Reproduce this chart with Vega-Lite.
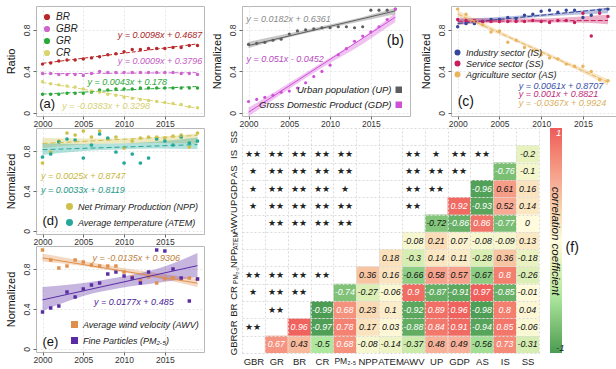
{
"$schema": "https://vega.github.io/schema/vega-lite/v6.json",
"background": "white",
"padding": {"left": 4, "top": 5, "right": 2, "bottom": 0},
"config": {
  "font": "Liberation Sans",
  "view": {"stroke": "#b8b8b8", "strokeWidth": 1},
  "axis": {"labelFont": "Liberation Sans", "titleFont": "Liberation Sans", "labelColor": "#333", "tickColor": "#666", "titleColor": "#111", "titleFontWeight": "normal", "domain": false, "gridColor": "#e6e6e6", "gridDash": [2, 2]},
  "legend": {"labelFont": "Liberation Sans", "labelColor": "#222", "padding": 0, "symbolOpacity": 1},
  "title": {"font": "Liberation Sans"}
},
"datasets": {
  "pa": [
    {"year":2000,"s":"BR","v":0.47},{"year":2001,"s":"BR","v":0.48},{"year":2002,"s":"BR","v":0.50},{"year":2003,"s":"BR","v":0.51},{"year":2004,"s":"BR","v":0.51},{"year":2005,"s":"BR","v":0.52},{"year":2006,"s":"BR","v":0.53},{"year":2007,"s":"BR","v":0.54},{"year":2008,"s":"BR","v":0.56},{"year":2009,"s":"BR","v":0.57},{"year":2010,"s":"BR","v":0.59},{"year":2011,"s":"BR","v":0.61},{"year":2012,"s":"BR","v":0.61},{"year":2013,"s":"BR","v":0.62},{"year":2014,"s":"BR","v":0.62},{"year":2015,"s":"BR","v":0.62},{"year":2016,"s":"BR","v":0.63},{"year":2017,"s":"BR","v":0.63},{"year":2018,"s":"BR","v":0.65},{"year":2019,"s":"BR","v":0.65},
    {"year":2000,"s":"GBR","v":0.38},{"year":2001,"s":"GBR","v":0.38},{"year":2002,"s":"GBR","v":0.37},{"year":2003,"s":"GBR","v":0.37},{"year":2004,"s":"GBR","v":0.37},{"year":2005,"s":"GBR","v":0.36},{"year":2006,"s":"GBR","v":0.38},{"year":2007,"s":"GBR","v":0.40},{"year":2008,"s":"GBR","v":0.39},{"year":2009,"s":"GBR","v":0.39},{"year":2010,"s":"GBR","v":0.39},{"year":2011,"s":"GBR","v":0.39},{"year":2012,"s":"GBR","v":0.39},{"year":2013,"s":"GBR","v":0.39},{"year":2014,"s":"GBR","v":0.39},{"year":2015,"s":"GBR","v":0.39},{"year":2016,"s":"GBR","v":0.39},{"year":2017,"s":"GBR","v":0.38},{"year":2018,"s":"GBR","v":0.38},{"year":2019,"s":"GBR","v":0.37},
    {"year":2000,"s":"GR","v":0.18},{"year":2001,"s":"GR","v":0.18},{"year":2002,"s":"GR","v":0.18},{"year":2003,"s":"GR","v":0.19},{"year":2004,"s":"GR","v":0.19},{"year":2005,"s":"GR","v":0.19},{"year":2006,"s":"GR","v":0.20},{"year":2007,"s":"GR","v":0.22},{"year":2008,"s":"GR","v":0.22},{"year":2009,"s":"GR","v":0.23},{"year":2010,"s":"GR","v":0.23},{"year":2011,"s":"GR","v":0.23},{"year":2012,"s":"GR","v":0.24},{"year":2013,"s":"GR","v":0.24},{"year":2014,"s":"GR","v":0.24},{"year":2015,"s":"GR","v":0.24},{"year":2016,"s":"GR","v":0.24},{"year":2017,"s":"GR","v":0.24},{"year":2018,"s":"GR","v":0.24},{"year":2019,"s":"GR","v":0.24},
    {"year":2000,"s":"CR","v":0.30},{"year":2001,"s":"CR","v":0.28},{"year":2002,"s":"CR","v":0.27},{"year":2003,"s":"CR","v":0.26},{"year":2004,"s":"CR","v":0.25},{"year":2005,"s":"CR","v":0.23},{"year":2006,"s":"CR","v":0.21},{"year":2007,"s":"CR","v":0.20},{"year":2008,"s":"CR","v":0.18},{"year":2009,"s":"CR","v":0.17},{"year":2010,"s":"CR","v":0.15},{"year":2011,"s":"CR","v":0.14},{"year":2012,"s":"CR","v":0.13},{"year":2013,"s":"CR","v":0.12},{"year":2014,"s":"CR","v":0.11},{"year":2015,"s":"CR","v":0.10},{"year":2016,"s":"CR","v":0.09},{"year":2017,"s":"CR","v":0.08},{"year":2018,"s":"CR","v":0.06},{"year":2019,"s":"CR","v":0.05}
  ],
  "pb": [
    {"year":2000,"s":"Urban population (UP)","v":0.66},{"year":2001,"s":"Urban population (UP)","v":0.67},{"year":2002,"s":"Urban population (UP)","v":0.68},{"year":2003,"s":"Urban population (UP)","v":0.70},{"year":2004,"s":"Urban population (UP)","v":0.71},{"year":2005,"s":"Urban population (UP)","v":0.76},{"year":2006,"s":"Urban population (UP)","v":0.79},{"year":2007,"s":"Urban population (UP)","v":0.80},{"year":2008,"s":"Urban population (UP)","v":0.81},{"year":2009,"s":"Urban population (UP)","v":0.82},{"year":2010,"s":"Urban population (UP)","v":0.82},{"year":2011,"s":"Urban population (UP)","v":0.83},{"year":2012,"s":"Urban population (UP)","v":0.83},{"year":2013,"s":"Urban population (UP)","v":0.82},{"year":2014,"s":"Urban population (UP)","v":0.83},{"year":2015,"s":"Urban population (UP)","v":0.99},{"year":2016,"s":"Urban population (UP)","v":0.99},{"year":2017,"s":"Urban population (UP)","v":0.99},{"year":2018,"s":"Urban population (UP)","v":1.00},
    {"year":2000,"s":"Gross Domestic Product (GDP)","v":0.11},{"year":2001,"s":"Gross Domestic Product (GDP)","v":0.13},{"year":2002,"s":"Gross Domestic Product (GDP)","v":0.15},{"year":2003,"s":"Gross Domestic Product (GDP)","v":0.17},{"year":2004,"s":"Gross Domestic Product (GDP)","v":0.20},{"year":2005,"s":"Gross Domestic Product (GDP)","v":0.21},{"year":2006,"s":"Gross Domestic Product (GDP)","v":0.24},{"year":2007,"s":"Gross Domestic Product (GDP)","v":0.29},{"year":2008,"s":"Gross Domestic Product (GDP)","v":0.35},{"year":2009,"s":"Gross Domestic Product (GDP)","v":0.40},{"year":2010,"s":"Gross Domestic Product (GDP)","v":0.46},{"year":2011,"s":"Gross Domestic Product (GDP)","v":0.56},{"year":2012,"s":"Gross Domestic Product (GDP)","v":0.62},{"year":2013,"s":"Gross Domestic Product (GDP)","v":0.69},{"year":2014,"s":"Gross Domestic Product (GDP)","v":0.74},{"year":2015,"s":"Gross Domestic Product (GDP)","v":0.78},{"year":2016,"s":"Gross Domestic Product (GDP)","v":0.83},{"year":2017,"s":"Gross Domestic Product (GDP)","v":0.90},{"year":2018,"s":"Gross Domestic Product (GDP)","v":1.00}
  ],
  "bb": [
    {"year":2000,"s":"Urban population (UP)","lo":0.625,"hi":0.685},{"year":2004,"s":"Urban population (UP)","lo":0.71,"hi":0.75},{"year":2009,"s":"Urban population (UP)","lo":0.80,"hi":0.835},{"year":2014,"s":"Urban population (UP)","lo":0.885,"hi":0.925},{"year":2018,"s":"Urban population (UP)","lo":0.95,"hi":1.01},
    {"year":2000,"s":"Gross Domestic Product (GDP)","lo":-0.035,"hi":0.05},{"year":2004,"s":"Gross Domestic Product (GDP)","lo":0.18,"hi":0.24},{"year":2009,"s":"Gross Domestic Product (GDP)","lo":0.435,"hi":0.485},{"year":2014,"s":"Gross Domestic Product (GDP)","lo":0.665,"hi":0.725},{"year":2018,"s":"Gross Domestic Product (GDP)","lo":0.875,"hi":0.965}
  ],
  "pc": [
    {"year":2000,"s":"Industry sector (IS)","v":0.83},{"year":2001,"s":"Industry sector (IS)","v":0.86},{"year":2002,"s":"Industry sector (IS)","v":0.86},{"year":2003,"s":"Industry sector (IS)","v":0.88},{"year":2004,"s":"Industry sector (IS)","v":0.90},{"year":2005,"s":"Industry sector (IS)","v":0.90},{"year":2006,"s":"Industry sector (IS)","v":0.92},{"year":2007,"s":"Industry sector (IS)","v":0.91},{"year":2008,"s":"Industry sector (IS)","v":0.94},{"year":2009,"s":"Industry sector (IS)","v":0.95},{"year":2010,"s":"Industry sector (IS)","v":0.98},{"year":2011,"s":"Industry sector (IS)","v":0.99},{"year":2012,"s":"Industry sector (IS)","v":0.97},{"year":2013,"s":"Industry sector (IS)","v":0.99},{"year":2014,"s":"Industry sector (IS)","v":0.99},{"year":2015,"s":"Industry sector (IS)","v":0.92},{"year":2016,"s":"Industry sector (IS)","v":0.94},{"year":2017,"s":"Industry sector (IS)","v":0.99},{"year":2018,"s":"Industry sector (IS)","v":1.00},
    {"year":2000,"s":"Service sector (SS)","v":0.90},{"year":2001,"s":"Service sector (SS)","v":0.89},{"year":2002,"s":"Service sector (SS)","v":0.89},{"year":2003,"s":"Service sector (SS)","v":0.88},{"year":2004,"s":"Service sector (SS)","v":0.88},{"year":2005,"s":"Service sector (SS)","v":0.88},{"year":2006,"s":"Service sector (SS)","v":0.88},{"year":2007,"s":"Service sector (SS)","v":0.88},{"year":2008,"s":"Service sector (SS)","v":0.88},{"year":2009,"s":"Service sector (SS)","v":0.89},{"year":2010,"s":"Service sector (SS)","v":0.88},{"year":2011,"s":"Service sector (SS)","v":0.87},{"year":2012,"s":"Service sector (SS)","v":0.89},{"year":2013,"s":"Service sector (SS)","v":0.89},{"year":2014,"s":"Service sector (SS)","v":0.87},{"year":2015,"s":"Service sector (SS)","v":0.96},{"year":2016,"s":"Service sector (SS)","v":0.74},{"year":2017,"s":"Service sector (SS)","v":0.96},{"year":2018,"s":"Service sector (SS)","v":0.93},
    {"year":2000,"s":"Agriculture sector (AS)","v":1.00},{"year":2001,"s":"Agriculture sector (AS)","v":0.95},{"year":2002,"s":"Agriculture sector (AS)","v":0.88},{"year":2003,"s":"Agriculture sector (AS)","v":0.85},{"year":2004,"s":"Agriculture sector (AS)","v":0.78},{"year":2005,"s":"Agriculture sector (AS)","v":0.79},{"year":2006,"s":"Agriculture sector (AS)","v":0.68},{"year":2007,"s":"Agriculture sector (AS)","v":0.70},{"year":2008,"s":"Agriculture sector (AS)","v":0.63},{"year":2009,"s":"Agriculture sector (AS)","v":0.60},{"year":2010,"s":"Agriculture sector (AS)","v":0.56},{"year":2011,"s":"Agriculture sector (AS)","v":0.53},{"year":2012,"s":"Agriculture sector (AS)","v":0.52},{"year":2013,"s":"Agriculture sector (AS)","v":0.47},{"year":2014,"s":"Agriculture sector (AS)","v":0.45},{"year":2015,"s":"Agriculture sector (AS)","v":0.45},{"year":2016,"s":"Agriculture sector (AS)","v":0.40},{"year":2017,"s":"Agriculture sector (AS)","v":0.32},{"year":2018,"s":"Agriculture sector (AS)","v":0.31}
  ],
  "bc": [
    {"year":2000,"s":"Industry sector (IS)","lo":0.85,"hi":0.905},{"year":2004,"s":"Industry sector (IS)","lo":0.885,"hi":0.92},{"year":2009,"s":"Industry sector (IS)","lo":0.92,"hi":0.945},{"year":2014,"s":"Industry sector (IS)","lo":0.945,"hi":0.98},{"year":2018,"s":"Industry sector (IS)","lo":0.96,"hi":1.015},
    {"year":2000,"s":"Service sector (SS)","lo":0.85,"hi":0.92},{"year":2004,"s":"Service sector (SS)","lo":0.865,"hi":0.91},{"year":2009,"s":"Service sector (SS)","lo":0.872,"hi":0.91},{"year":2014,"s":"Service sector (SS)","lo":0.87,"hi":0.925},{"year":2018,"s":"Service sector (SS)","lo":0.855,"hi":0.945},
    {"year":2000,"s":"Agriculture sector (AS)","lo":0.93,"hi":0.99},{"year":2004,"s":"Agriculture sector (AS)","lo":0.79,"hi":0.83},{"year":2009,"s":"Agriculture sector (AS)","lo":0.61,"hi":0.645},{"year":2014,"s":"Agriculture sector (AS)","lo":0.425,"hi":0.465},{"year":2018,"s":"Agriculture sector (AS)","lo":0.265,"hi":0.325}
  ],
  "pd": [
    {"year":2000,"s":"Net Primary Production (NPP)","v":0.68},{"year":2001,"s":"Net Primary Production (NPP)","v":0.79},{"year":2002,"s":"Net Primary Production (NPP)","v":0.90},{"year":2003,"s":"Net Primary Production (NPP)","v":0.98},{"year":2004,"s":"Net Primary Production (NPP)","v":0.96},{"year":2005,"s":"Net Primary Production (NPP)","v":1.00},{"year":2006,"s":"Net Primary Production (NPP)","v":0.94},{"year":2007,"s":"Net Primary Production (NPP)","v":1.00},{"year":2008,"s":"Net Primary Production (NPP)","v":0.92},{"year":2009,"s":"Net Primary Production (NPP)","v":0.94},{"year":2010,"s":"Net Primary Production (NPP)","v":0.83},{"year":2011,"s":"Net Primary Production (NPP)","v":0.90},{"year":2012,"s":"Net Primary Production (NPP)","v":0.93},{"year":2013,"s":"Net Primary Production (NPP)","v":0.94},{"year":2014,"s":"Net Primary Production (NPP)","v":0.94},{"year":2015,"s":"Net Primary Production (NPP)","v":0.93},{"year":2016,"s":"Net Primary Production (NPP)","v":0.95},{"year":2017,"s":"Net Primary Production (NPP)","v":0.96},{"year":2018,"s":"Net Primary Production (NPP)","v":0.84},{"year":2019,"s":"Net Primary Production (NPP)","v":0.98},
    {"year":2000,"s":"Average temperature (ATEM)","v":0.74},{"year":2001,"s":"Average temperature (ATEM)","v":0.77},{"year":2002,"s":"Average temperature (ATEM)","v":0.89},{"year":2003,"s":"Average temperature (ATEM)","v":0.92},{"year":2004,"s":"Average temperature (ATEM)","v":0.91},{"year":2005,"s":"Average temperature (ATEM)","v":0.73},{"year":2006,"s":"Average temperature (ATEM)","v":0.86},{"year":2007,"s":"Average temperature (ATEM)","v":0.97},{"year":2008,"s":"Average temperature (ATEM)","v":0.93},{"year":2009,"s":"Average temperature (ATEM)","v":0.79},{"year":2010,"s":"Average temperature (ATEM)","v":0.68},{"year":2011,"s":"Average temperature (ATEM)","v":0.77},{"year":2012,"s":"Average temperature (ATEM)","v":0.68},{"year":2013,"s":"Average temperature (ATEM)","v":0.73},{"year":2014,"s":"Average temperature (ATEM)","v":0.92},{"year":2015,"s":"Average temperature (ATEM)","v":0.90},{"year":2016,"s":"Average temperature (ATEM)","v":0.86},{"year":2017,"s":"Average temperature (ATEM)","v":0.94},{"year":2018,"s":"Average temperature (ATEM)","v":0.88},{"year":2019,"s":"Average temperature (ATEM)","v":0.90}
  ],
  "bd": [
    {"year":2000,"s":"Net Primary Production (NPP)","lo":0.83,"hi":0.93},{"year":2005,"s":"Net Primary Production (NPP)","lo":0.865,"hi":0.925},{"year":2009.5,"s":"Net Primary Production (NPP)","lo":0.875,"hi":0.925},{"year":2014,"s":"Net Primary Production (NPP)","lo":0.88,"hi":0.94},{"year":2019,"s":"Net Primary Production (NPP)","lo":0.875,"hi":0.975},
    {"year":2000,"s":"Average temperature (ATEM)","lo":0.76,"hi":0.875},{"year":2005,"s":"Average temperature (ATEM)","lo":0.80,"hi":0.87},{"year":2009.5,"s":"Average temperature (ATEM)","lo":0.815,"hi":0.875},{"year":2014,"s":"Average temperature (ATEM)","lo":0.825,"hi":0.895},{"year":2019,"s":"Average temperature (ATEM)","lo":0.82,"hi":0.935}
  ],
  "pe": [
    {"year":2000,"s":"Average wind velocity (AWV)","v":0.99},{"year":2001,"s":"Average wind velocity (AWV)","v":0.89},{"year":2002,"s":"Average wind velocity (AWV)","v":0.81},{"year":2003,"s":"Average wind velocity (AWV)","v":0.83},{"year":2004,"s":"Average wind velocity (AWV)","v":0.89},{"year":2005,"s":"Average wind velocity (AWV)","v":0.87},{"year":2006,"s":"Average wind velocity (AWV)","v":0.84},{"year":2007,"s":"Average wind velocity (AWV)","v":0.83},{"year":2008,"s":"Average wind velocity (AWV)","v":0.83},{"year":2009,"s":"Average wind velocity (AWV)","v":0.83},{"year":2010,"s":"Average wind velocity (AWV)","v":0.77},{"year":2011,"s":"Average wind velocity (AWV)","v":0.72},{"year":2012,"s":"Average wind velocity (AWV)","v":0.69},{"year":2013,"s":"Average wind velocity (AWV)","v":0.72},{"year":2014,"s":"Average wind velocity (AWV)","v":0.66},{"year":2015,"s":"Average wind velocity (AWV)","v":0.70},{"year":2016,"s":"Average wind velocity (AWV)","v":0.71},{"year":2017,"s":"Average wind velocity (AWV)","v":0.70},{"year":2018,"s":"Average wind velocity (AWV)","v":0.71},{"year":2019,"s":"Average wind velocity (AWV)","v":0.70},
    {"year":2000,"s":"Fine Particles (PM₂.₅)","v":0.37},{"year":2001,"s":"Fine Particles (PM₂.₅)","v":0.41},{"year":2002,"s":"Fine Particles (PM₂.₅)","v":0.43},{"year":2003,"s":"Fine Particles (PM₂.₅)","v":0.57},{"year":2004,"s":"Fine Particles (PM₂.₅)","v":0.52},{"year":2005,"s":"Fine Particles (PM₂.₅)","v":0.60},{"year":2006,"s":"Fine Particles (PM₂.₅)","v":0.64},{"year":2007,"s":"Fine Particles (PM₂.₅)","v":0.66},{"year":2008,"s":"Fine Particles (PM₂.₅)","v":0.75},{"year":2009,"s":"Fine Particles (PM₂.₅)","v":0.77},{"year":2010,"s":"Fine Particles (PM₂.₅)","v":0.73},{"year":2011,"s":"Fine Particles (PM₂.₅)","v":0.71},{"year":2012,"s":"Fine Particles (PM₂.₅)","v":0.66},{"year":2013,"s":"Fine Particles (PM₂.₅)","v":0.77},{"year":2014,"s":"Fine Particles (PM₂.₅)","v":0.99},{"year":2015,"s":"Fine Particles (PM₂.₅)","v":0.98},{"year":2016,"s":"Fine Particles (PM₂.₅)","v":0.80},{"year":2017,"s":"Fine Particles (PM₂.₅)","v":0.71},{"year":2018,"s":"Fine Particles (PM₂.₅)","v":0.48},{"year":2019,"s":"Fine Particles (PM₂.₅)","v":0.70}
  ],
  "be": [
    {"year":2000,"s":"Average wind velocity (AWV)","lo":0.875,"hi":0.955},{"year":2005,"s":"Average wind velocity (AWV)","lo":0.83,"hi":0.88},{"year":2009.5,"s":"Average wind velocity (AWV)","lo":0.77,"hi":0.815},{"year":2014,"s":"Average wind velocity (AWV)","lo":0.71,"hi":0.76},{"year":2019,"s":"Average wind velocity (AWV)","lo":0.62,"hi":0.70},
    {"year":2000,"s":"Fine Particles (PM₂.₅)","lo":0.38,"hi":0.62},{"year":2005,"s":"Fine Particles (PM₂.₅)","lo":0.53,"hi":0.66},{"year":2009.5,"s":"Fine Particles (PM₂.₅)","lo":0.61,"hi":0.72},{"year":2014,"s":"Fine Particles (PM₂.₅)","lo":0.66,"hi":0.80},{"year":2019,"s":"Fine Particles (PM₂.₅)","lo":0.72,"hi":0.96}
  ],
  "cells": [
    {"r":"GBR","c":"GR","v":0.67},{"r":"GBR","c":"BR","v":0.43},{"r":"GBR","c":"CR","v":-0.5},{"r":"GBR","c":"PM₂.₅","v":0.68},{"r":"GBR","c":"NPP","v":-0.08},{"r":"GBR","c":"ATEM","v":-0.14},{"r":"GBR","c":"AWV","v":-0.37},{"r":"GBR","c":"UP","v":0.48},{"r":"GBR","c":"GDP","v":0.49},{"r":"GBR","c":"AS","v":-0.56},{"r":"GBR","c":"IS","v":0.73},{"r":"GBR","c":"SS","v":-0.31},
    {"r":"GR","c":"BR","v":0.96},{"r":"GR","c":"CR","v":-0.97},{"r":"GR","c":"PM₂.₅","v":0.78},{"r":"GR","c":"NPP","v":0.17},{"r":"GR","c":"ATEM","v":0.03},{"r":"GR","c":"AWV","v":-0.88},{"r":"GR","c":"UP","v":0.84},{"r":"GR","c":"GDP","v":0.91},{"r":"GR","c":"AS","v":-0.94},{"r":"GR","c":"IS","v":0.85},{"r":"GR","c":"SS","v":-0.06},
    {"r":"BR","c":"CR","v":-0.99},{"r":"BR","c":"PM₂.₅","v":0.68},{"r":"BR","c":"NPP","v":0.23},{"r":"BR","c":"ATEM","v":0.1},{"r":"BR","c":"AWV","v":-0.92},{"r":"BR","c":"UP","v":0.89},{"r":"BR","c":"GDP","v":0.96},{"r":"BR","c":"AS","v":-0.98},{"r":"BR","c":"IS","v":0.8},{"r":"BR","c":"SS","v":0.04},
    {"r":"CR","c":"PM₂.₅","v":-0.74},{"r":"CR","c":"NPP","v":-0.27},{"r":"CR","c":"ATEM","v":-0.06},{"r":"CR","c":"AWV","v":0.9},{"r":"CR","c":"UP","v":-0.87},{"r":"CR","c":"GDP","v":-0.91},{"r":"CR","c":"AS","v":0.97},{"r":"CR","c":"IS","v":-0.85},{"r":"CR","c":"SS","v":-0.01},
    {"r":"PM₂.₅","c":"NPP","v":0.36},{"r":"PM₂.₅","c":"ATEM","v":0.16},{"r":"PM₂.₅","c":"AWV","v":-0.66},{"r":"PM₂.₅","c":"UP","v":0.58},{"r":"PM₂.₅","c":"GDP","v":0.57},{"r":"PM₂.₅","c":"AS","v":-0.67},{"r":"PM₂.₅","c":"IS","v":0.8},{"r":"PM₂.₅","c":"SS","v":-0.26},
    {"r":"NPP","c":"ATEM","v":0.18},{"r":"NPP","c":"AWV","v":-0.3},{"r":"NPP","c":"UP","v":0.14},{"r":"NPP","c":"GDP","v":0.11},{"r":"NPP","c":"AS","v":-0.28},{"r":"NPP","c":"IS","v":0.36},{"r":"NPP","c":"SS","v":-0.18},
    {"r":"ATEM","c":"AWV","v":-0.08},{"r":"ATEM","c":"UP","v":0.21},{"r":"ATEM","c":"GDP","v":0.07},{"r":"ATEM","c":"AS","v":-0.08},{"r":"ATEM","c":"IS","v":-0.09},{"r":"ATEM","c":"SS","v":0.13},
    {"r":"AWV","c":"UP","v":-0.72},{"r":"AWV","c":"GDP","v":-0.86},{"r":"AWV","c":"AS","v":0.86},{"r":"AWV","c":"IS","v":-0.77},{"r":"AWV","c":"SS","v":0},
    {"r":"UP","c":"GDP","v":0.92},{"r":"UP","c":"AS","v":-0.93},{"r":"UP","c":"IS","v":0.52},{"r":"UP","c":"SS","v":0.14},
    {"r":"GDP","c":"AS","v":-0.96},{"r":"GDP","c":"IS","v":0.61},{"r":"GDP","c":"SS","v":0.16},
    {"r":"AS","c":"IS","v":-0.76},{"r":"AS","c":"SS","v":-0.1},
    {"r":"IS","c":"SS","v":-0.2}
  ],
  "stars": [
    {"r":"IS","c":"GBR","s":"★★"},{"r":"IS","c":"GR","s":"★★"},{"r":"IS","c":"BR","s":"★★"},{"r":"IS","c":"CR","s":"★★"},{"r":"IS","c":"PM₂.₅","s":"★★"},{"r":"IS","c":"AWV","s":"★★"},{"r":"IS","c":"UP","s":"★"},{"r":"IS","c":"GDP","s":"★★"},{"r":"IS","c":"AS","s":"★★"},
    {"r":"AS","c":"GBR","s":"★"},{"r":"AS","c":"GR","s":"★★"},{"r":"AS","c":"BR","s":"★★"},{"r":"AS","c":"CR","s":"★★"},{"r":"AS","c":"PM₂.₅","s":"★★"},{"r":"AS","c":"AWV","s":"★★"},{"r":"AS","c":"UP","s":"★★"},{"r":"AS","c":"GDP","s":"★★"},
    {"r":"GDP","c":"GBR","s":"★"},{"r":"GDP","c":"GR","s":"★★"},{"r":"GDP","c":"BR","s":"★★"},{"r":"GDP","c":"CR","s":"★★"},{"r":"GDP","c":"PM₂.₅","s":"★"},{"r":"GDP","c":"AWV","s":"★★"},{"r":"GDP","c":"UP","s":"★★"},
    {"r":"UP","c":"GBR","s":"★"},{"r":"UP","c":"GR","s":"★★"},{"r":"UP","c":"BR","s":"★★"},{"r":"UP","c":"CR","s":"★★"},{"r":"UP","c":"PM₂.₅","s":"★★"},{"r":"UP","c":"AWV","s":"★★"},
    {"r":"AWV","c":"GR","s":"★★"},{"r":"AWV","c":"BR","s":"★★"},{"r":"AWV","c":"CR","s":"★★"},{"r":"AWV","c":"PM₂.₅","s":"★★"},
    {"r":"PM₂.₅","c":"GBR","s":"★★"},{"r":"PM₂.₅","c":"GR","s":"★★"},{"r":"PM₂.₅","c":"BR","s":"★★"},{"r":"PM₂.₅","c":"CR","s":"★★"},
    {"r":"CR","c":"GBR","s":"★"},{"r":"CR","c":"GR","s":"★★"},{"r":"CR","c":"BR","s":"★★"},
    {"r":"BR","c":"GR","s":"★★"},
    {"r":"GR","c":"GBR","s":"★★"}
  ]
},
"resolve": {"scale": {"color": "independent"}, "legend": {"color": "independent"}},
"hconcat": [
  {"resolve": {"scale": {"color": "independent"}, "legend": {"color": "independent"}},
   "vconcat": [
    {"width": 168, "height": 110,
     "layer": [
      {"data": {"name": "pa"}, "mark": {"type": "point", "filled": true, "size": 12, "opacity": 1},
       "encoding": {
        "x": {"field": "year", "type": "quantitative", "scale": {"domain": [1999.2, 2019.8], "nice": false, "zero": false}, "axis": {"title": null, "values": [2000, 2005, 2010, 2015], "format": "d", "labelFontSize": 8.5, "tickSize": 3, "labelPadding": 0, "grid": true}},
        "y": {"field": "v", "type": "quantitative", "scale": {"domain": [-0.03, 1.03], "nice": false}, "axis": {"title": "Ratio", "values": [0, 0.2, 0.4, 0.6, 0.8, 1], "format": "~g", "labelAngle": 270, "labelAlign": "center", "labelBaseline": "bottom", "labelFontSize": 8.5, "labelPadding": 2, "tickSize": 3, "titleFontSize": 11, "titlePadding": 4, "grid": true, "minExtent": 16, "maxExtent": 16}},
        "color": {"field": "s", "type": "nominal", "scale": {"domain": ["BR", "GBR", "GR", "CR"], "range": ["#b8282a", "#cc66cc", "#2ca83a", "#d9d46e"]}, "legend": {"title": null, "orient": "top-left", "offset": 6, "labelFontStyle": "italic", "labelFontSize": 10, "symbolSize": 22, "symbolType": "circle", "rowPadding": 0}}
       }},
      {"data": {"name": "pa"}, "transform": [{"regression": "v", "on": "year", "groupby": ["s"]}], "mark": {"type": "line", "strokeDash": [4, 2], "strokeWidth": 1},
       "encoding": {"x": {"field": "year", "type": "quantitative"}, "y": {"field": "v", "type": "quantitative"}, "color": {"field": "s", "type": "nominal"}}},
      {"data": {"values": [{}]}, "mark": {"type": "text", "text": "y = 0.0098x + 0.4687", "align": "right", "fontStyle": "italic", "fontSize": 9, "color": "#a82828"}, "encoding": {"x": {"datum": 2019.6}, "y": {"datum": 0.755}}},
      {"data": {"values": [{}]}, "mark": {"type": "text", "text": "y = 0.0009x + 0.3796", "align": "right", "fontStyle": "italic", "fontSize": 9, "color": "#c45cc4"}, "encoding": {"x": {"datum": 2019.6}, "y": {"datum": 0.50}}},
      {"data": {"values": [{}]}, "mark": {"type": "text", "text": "y = 0.0043x + 0.178", "align": "center", "fontStyle": "italic", "fontSize": 9, "color": "#2aa83a"}, "encoding": {"x": {"datum": 2010.4}, "y": {"datum": 0.295}}},
      {"data": {"values": [{}]}, "mark": {"type": "text", "text": "y = -0.0383x + 0.3298", "align": "center", "fontStyle": "italic", "fontSize": 9, "color": "#d6d070"}, "encoding": {"x": {"datum": 2007.8}, "y": {"datum": 0.07}}},
      {"data": {"values": [{}]}, "mark": {"type": "text", "text": "(a)", "align": "left", "fontSize": 13, "color": "#111"}, "encoding": {"x": {"datum": 1999.6}, "y": {"datum": 0.09}}}
     ]},
    {"width": 168, "height": 106,
     "layer": [
      {"data": {"name": "bd"}, "mark": {"type": "area", "opacity": 0.35, "interpolate": "monotone"},
       "encoding": {"x": {"field": "year", "type": "quantitative"}, "y": {"field": "lo", "type": "quantitative"}, "y2": {"field": "hi"}, "color": {"field": "s", "type": "nominal"}}},
      {"data": {"name": "pd"}, "mark": {"type": "point", "filled": true, "size": 14, "opacity": 1},
       "encoding": {
        "x": {"field": "year", "type": "quantitative", "scale": {"domain": [1999.2, 2019.8], "nice": false, "zero": false}, "axis": {"title": null, "values": [2000, 2005, 2010, 2015], "format": "d", "labelFontSize": 8.5, "tickSize": 3, "labelPadding": 0, "grid": true}},
        "y": {"field": "v", "type": "quantitative", "scale": {"domain": [-0.03, 1.03], "nice": false}, "axis": {"title": "Normalized", "values": [0, 0.2, 0.4, 0.6, 0.8, 1], "format": "~g", "labelAngle": 270, "labelAlign": "center", "labelBaseline": "bottom", "labelFontSize": 8.5, "labelPadding": 2, "tickSize": 3, "titleFontSize": 11, "titlePadding": 4, "grid": true, "minExtent": 16, "maxExtent": 16}},
        "color": {"field": "s", "type": "nominal", "scale": {"domain": ["Net Primary Production (NPP)", "Average temperature (ATEM)"], "range": ["#cfc04a", "#25a89a"]}, "legend": {"title": null, "orient": "bottom-right", "offset": 5, "labelFontStyle": "italic", "labelFontSize": 9, "symbolSize": 30, "symbolType": "circle", "rowPadding": 3}}
       }},
      {"data": {"name": "pd"}, "transform": [{"regression": "v", "on": "year", "groupby": ["s"]}], "mark": {"type": "line", "strokeDash": [5, 3], "strokeWidth": 1},
       "encoding": {"x": {"field": "year", "type": "quantitative"}, "y": {"field": "v", "type": "quantitative"}, "color": {"field": "s", "type": "nominal"}}},
      {"data": {"values": [{}]}, "mark": {"type": "text", "text": "y = 0.0025x + 0.8747", "align": "left", "fontStyle": "italic", "fontSize": 9, "color": "#c8b840"}, "encoding": {"x": {"datum": 1999.8}, "y": {"datum": 0.55}}},
      {"data": {"values": [{}]}, "mark": {"type": "text", "text": "y = 0.0033x + 0.8119", "align": "left", "fontStyle": "italic", "fontSize": 9, "color": "#1f9a8c"}, "encoding": {"x": {"datum": 1999.8}, "y": {"datum": 0.41}}},
      {"data": {"values": [{}]}, "mark": {"type": "text", "text": "(d)", "align": "left", "fontSize": 13, "color": "#111"}, "encoding": {"x": {"datum": 2000.0}, "y": {"datum": 0.10}}}
     ]},
    {"width": 168, "height": 106,
     "layer": [
      {"data": {"name": "be"}, "mark": {"type": "area", "opacity": 0.35, "interpolate": "monotone"},
       "encoding": {"x": {"field": "year", "type": "quantitative"}, "y": {"field": "lo", "type": "quantitative"}, "y2": {"field": "hi"}, "color": {"field": "s", "type": "nominal"}}},
      {"data": {"name": "pe"}, "mark": {"type": "point", "filled": true, "size": 12, "opacity": 1, "shape": "square"},
       "encoding": {
        "x": {"field": "year", "type": "quantitative", "scale": {"domain": [1999.2, 2019.8], "nice": false, "zero": false}, "axis": {"title": null, "values": [2000, 2005, 2010, 2015], "format": "d", "labelFontSize": 8.5, "tickSize": 3, "labelPadding": 0, "grid": true}},
        "y": {"field": "v", "type": "quantitative", "scale": {"domain": [-0.03, 1.03], "nice": false}, "axis": {"title": "Normalized", "values": [0, 0.2, 0.4, 0.6, 0.8, 1], "format": "~g", "labelAngle": 270, "labelAlign": "center", "labelBaseline": "bottom", "labelFontSize": 8.5, "labelPadding": 2, "tickSize": 3, "titleFontSize": 11, "titlePadding": 4, "grid": true, "minExtent": 16, "maxExtent": 16}},
        "color": {"field": "s", "type": "nominal", "scale": {"domain": ["Average wind velocity (AWV)", "Fine Particles (PM₂.₅)"], "range": ["#e0904c", "#5a2ca4"]}, "legend": {"title": null, "orient": "bottom-right", "offset": 5, "labelFontStyle": "italic", "labelFontSize": 9, "symbolSize": 30, "symbolType": "square", "rowPadding": 3}}
       }},
      {"data": {"name": "pe"}, "transform": [{"regression": "v", "on": "year", "groupby": ["s"]}], "mark": {"type": "line", "strokeWidth": 1},
       "encoding": {"x": {"field": "year", "type": "quantitative"}, "y": {"field": "v", "type": "quantitative"}, "color": {"field": "s", "type": "nominal"}}},
      {"data": {"values": [{}]}, "mark": {"type": "text", "text": "y = -0.0135x + 0.9306", "align": "center", "fontStyle": "italic", "fontSize": 9, "color": "#c0803c"}, "encoding": {"x": {"datum": 2011.5}, "y": {"datum": 0.91}}},
      {"data": {"values": [{}]}, "mark": {"type": "text", "text": "y = 0.0177x + 0.485", "align": "center", "fontStyle": "italic", "fontSize": 9, "color": "#4a2494"}, "encoding": {"x": {"datum": 2011.2}, "y": {"datum": 0.47}}},
      {"data": {"values": [{}]}, "mark": {"type": "text", "text": "(e)", "align": "left", "fontSize": 13, "color": "#111"}, "encoding": {"x": {"datum": 2000.0}, "y": {"datum": 0.07}}}
     ]}
  ], "spacing": -3},
  {"resolve": {"scale": {"color": "independent"}, "legend": {"color": "independent"}},
   "vconcat": [
    {"resolve": {"scale": {"color": "independent"}, "legend": {"color": "independent"}},
     "hconcat": [
      {"width": 168, "height": 110,
       "layer": [
        {"data": {"name": "bb"}, "mark": {"type": "area", "opacity": 0.35, "interpolate": "monotone"},
         "encoding": {"x": {"field": "year", "type": "quantitative"}, "y": {"field": "lo", "type": "quantitative"}, "y2": {"field": "hi"}, "color": {"field": "s", "type": "nominal"}}},
        {"data": {"name": "pb"}, "mark": {"type": "point", "filled": true, "size": 10, "opacity": 1},
         "encoding": {
          "x": {"field": "year", "type": "quantitative", "scale": {"domain": [1999.2, 2019.8], "nice": false, "zero": false}, "axis": {"title": null, "values": [2000, 2005, 2010, 2015], "format": "d", "labelFontSize": 8.5, "tickSize": 3, "labelPadding": 0, "grid": true}},
          "y": {"field": "v", "type": "quantitative", "scale": {"domain": [-0.03, 1.03], "nice": false}, "axis": {"title": "Normalized", "values": [0, 0.2, 0.4, 0.6, 0.8, 1], "format": "~g", "labelAngle": 270, "labelAlign": "center", "labelBaseline": "bottom", "labelFontSize": 8.5, "labelPadding": 2, "tickSize": 3, "titleFontSize": 11, "titlePadding": 4, "grid": true, "minExtent": 16, "maxExtent": 16}},
          "color": {"field": "s", "type": "nominal", "scale": {"domain": ["Urban population (UP)", "Gross Domestic Product (GDP)"], "range": ["#5e5e5e", "#d050d8"]}, "legend": {"title": null, "orient": "bottom-right", "offset": 5, "labelFontStyle": "italic", "labelFontSize": 9.5, "symbolSize": 25, "symbolType": "square", "rowPadding": 3, "labelAlign": "right", "labelOffset": -12}}
         }},
        {"data": {"name": "pb"}, "transform": [{"regression": "v", "on": "year", "groupby": ["s"]}], "mark": {"type": "line", "strokeWidth": 1},
         "encoding": {"x": {"field": "year", "type": "quantitative"}, "y": {"field": "v", "type": "quantitative"}, "color": {"field": "s", "type": "nominal"}}},
        {"data": {"values": [{}]}, "mark": {"type": "text", "text": "y = 0.0182x + 0.6361", "align": "center", "fontStyle": "italic", "fontSize": 9, "color": "#8a8a8a"}, "encoding": {"x": {"datum": 2004.9}, "y": {"datum": 0.90}}},
        {"data": {"values": [{}]}, "mark": {"type": "text", "text": "y = 0.051x - 0.0452", "align": "center", "fontStyle": "italic", "fontSize": 9, "color": "#b848c0"}, "encoding": {"x": {"datum": 2004.5}, "y": {"datum": 0.52}}},
        {"data": {"values": [{}]}, "mark": {"type": "text", "text": "(b)", "align": "center", "fontSize": 14, "color": "#111"}, "encoding": {"x": {"datum": 2018}, "y": {"datum": 0.69}}}
       ]},
      {"width": 172, "height": 110,
       "layer": [
        {"data": {"name": "bc"}, "mark": {"type": "area", "opacity": 0.35, "interpolate": "monotone"},
         "encoding": {"x": {"field": "year", "type": "quantitative"}, "y": {"field": "lo", "type": "quantitative"}, "y2": {"field": "hi"}, "color": {"field": "s", "type": "nominal"}}},
        {"data": {"name": "pc"}, "mark": {"type": "point", "filled": true, "size": 12, "opacity": 1},
         "encoding": {
          "x": {"field": "year", "type": "quantitative", "scale": {"domain": [1999.2, 2019.8], "nice": false, "zero": false}, "axis": {"title": null, "values": [2000, 2005, 2010, 2015], "format": "d", "labelFontSize": 8.5, "tickSize": 3, "labelPadding": 0, "grid": true}},
          "y": {"field": "v", "type": "quantitative", "scale": {"domain": [-0.03, 1.03], "nice": false}, "axis": {"title": "Normalized", "values": [0, 0.2, 0.4, 0.6, 0.8, 1], "format": "~g", "labelAngle": 270, "labelAlign": "center", "labelBaseline": "bottom", "labelFontSize": 8.5, "labelPadding": 2, "tickSize": 3, "titleFontSize": 11, "titlePadding": 4, "grid": true, "minExtent": 16, "maxExtent": 16}},
          "color": {"field": "s", "type": "nominal", "scale": {"domain": ["Industry sector (IS)", "Service sector (SS)", "Agriculture sector (AS)"], "range": ["#35479a", "#c81e5e", "#e8b45c"]}, "legend": {"title": null, "orient": "none", "legendX": 2, "legendY": 42, "labelFontStyle": "italic", "labelFontSize": 9, "symbolSize": 20, "symbolType": "circle", "rowPadding": 0}}
         }},
        {"data": {"name": "pc"}, "transform": [{"regression": "v", "on": "year", "groupby": ["s"]}], "mark": {"type": "line", "strokeWidth": 1, "strokeDash": [5, 2]},
         "encoding": {"x": {"field": "year", "type": "quantitative"}, "y": {"field": "v", "type": "quantitative"}, "color": {"field": "s", "type": "nominal"}}},
        {"data": {"values": [{}]}, "mark": {"type": "text", "text": "y = 0.0061x + 0.8707", "align": "left", "fontStyle": "italic", "fontSize": 9, "color": "#3a50a8"}, "encoding": {"x": {"datum": 2007.3}, "y": {"datum": 0.26}}},
        {"data": {"values": [{}]}, "mark": {"type": "text", "text": "y = 0.001x + 0.8821", "align": "left", "fontStyle": "italic", "fontSize": 9, "color": "#c02a78"}, "encoding": {"x": {"datum": 2007.3}, "y": {"datum": 0.18}}},
        {"data": {"values": [{}]}, "mark": {"type": "text", "text": "y = -0.0367x + 0.9924", "align": "left", "fontStyle": "italic", "fontSize": 9, "color": "#d8b060"}, "encoding": {"x": {"datum": 2007.3}, "y": {"datum": 0.10}}},
        {"data": {"values": [{}]}, "mark": {"type": "text", "text": "(c)", "align": "left", "fontSize": 14, "color": "#111"}, "encoding": {"x": {"datum": 2000.0}, "y": {"datum": 0.105}}}
       ]}
    ], "spacing": 8},
    {"width": 297, "height": 225,
     "view": {"stroke": null},
     "title": {"text": "(f)", "orient": "right", "angle": 0, "anchor": "middle", "fontSize": 14, "fontWeight": "normal", "color": "#111", "offset": -6},
     "layer": [
      {"data": {"name": "cells"}, "mark": {"type": "rect"},
       "encoding": {
        "x": {"field": "c", "type": "nominal", "scale": {"domain": ["GBR", "GR", "BR", "CR", "PM₂.₅", "NPP", "ATEM", "AWV", "UP", "GDP", "AS", "IS", "SS"], "paddingInner": 0, "paddingOuter": 0}, "axis": {"title": null, "labelAngle": 0, "ticks": false, "grid": true, "tickBand": "extent", "gridDash": [2, 2], "gridColor": "#dadada", "labelFontSize": {"condition": {"test": "datum.value == 'PM₂.₅'", "value": 8.5}, "value": 9.5}, "labelColor": "#222", "labelPadding": 3}},
        "y": {"field": "r", "type": "nominal", "scale": {"domain": ["SS", "IS", "AS", "GDP", "UP", "AWV", "ATEM", "NPP", "PM₂.₅", "CR", "BR", "GR", "GBR"], "paddingInner": 0, "paddingOuter": 0}, "axis": {"title": null, "labelAngle": 270, "labelAlign": "center", "labelBaseline": "bottom", "ticks": false, "grid": true, "tickBand": "extent", "gridDash": [2, 2], "gridColor": "#dadada", "labelFontSize": {"condition": {"test": "datum.value == 'ATEM' || datum.value == 'PM₂.₅'", "value": 6.5}, "value": 9.5}, "labelColor": "#222", "labelPadding": 4, "minExtent": 26}},
        "color": {"field": "v", "type": "quantitative", "scale": {"domain": [-1, -0.5, 0, 0.5, 1], "range": ["#4a9b52", "#aee79e", "#fffbdc", "#f7ae98", "#ee5a5a"]},
          "legend": {"title": "correlation coefficient", "titleOrient": "right", "titleAngle": -90, "titleAnchor": "middle", "titleFontStyle": "italic", "titleFontSize": 11.5, "titleFontWeight": "normal", "titleColor": "#111", "titlePadding": -14, "gradientLength": 225, "gradientThickness": 12, "values": [-1, 1], "labelExpr": "datum.value > 0 ? '1' : '-1'", "labelOffset": -6, "labelAlign": "center", "labelFontStyle": "italic", "labelFontSize": 9.5, "labelColor": {"expr": "datum.value > 0 ? '#ffffff' : '#222222'"}, "offset": 10}}
       }},
      {"data": {"name": "cells"}, "mark": {"type": "text", "fontStyle": "italic", "fontSize": 8.8},
       "encoding": {
        "x": {"field": "c", "type": "nominal"},
        "y": {"field": "r", "type": "nominal"},
        "text": {"field": "v", "type": "nominal"},
        "color": {"condition": {"test": "datum.v >= 0.62 || datum.v <= -0.73", "value": "#ffffff"}, "value": "#111111"}
       }},
      {"data": {"name": "stars"}, "mark": {"type": "text", "fontSize": 8.5, "color": "#222"},
       "encoding": {
        "x": {"field": "c", "type": "nominal"},
        "y": {"field": "r", "type": "nominal"},
        "text": {"field": "s", "type": "nominal"}
       }}
     ]}
  ], "spacing": -7}
],
"spacing": 5
}
